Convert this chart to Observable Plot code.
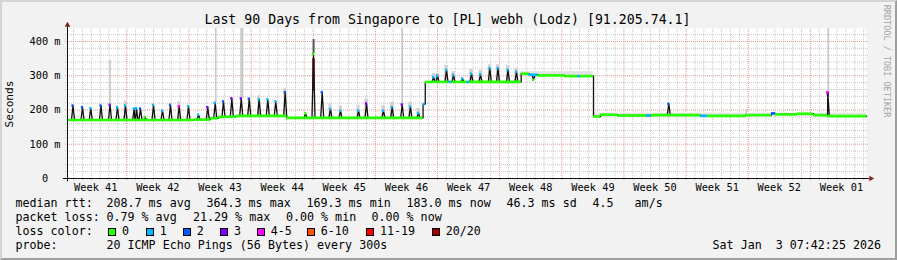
<!DOCTYPE html>
<html><head><meta charset="utf-8">
<script src="https://cdn.jsdelivr.net/npm/d3@7"></script>
<script src="https://cdn.jsdelivr.net/npm/@observablehq/plot@0.6"></script>
<style>
html,body{margin:0;padding:0;background:#fff;}
#wrap{position:relative;width:897px;height:260px;background:#f2f2f2;overflow:hidden;font-family:"DejaVu Sans Mono",monospace;color:#000;}
#edge{position:absolute;left:0;top:0;width:897px;height:260px;box-sizing:border-box;border-style:solid;border-width:2px;border-color:#d4d4d4 #9e9e9e #9e9e9e #d4d4d4;pointer-events:none;}
.t{position:absolute;white-space:pre;line-height:1;}
.box{position:absolute;width:6px;height:6px;border:1px solid #000;}
#chart{position:absolute;left:0;top:0;}
</style></head>
<body><div id="wrap"><div id="chart"></div><div id="edge"></div></div>
<script>
// ---------------- data (days since start of the 90-day window) ----------------
const weekLabels = ["Week 41","Week 42","Week 43","Week 44","Week 45","Week 46","Week 47","Week 48","Week 49","Week 50","Week 51","Week 52","Week 01"];
const weekLabelDay = [3.18,10.18,17.18,24.18,31.18,38.18,45.18,52.18,59.18,66.18,73.18,80.18,87.18];
const weekStartDay = [6.68,13.68,20.68,27.68,34.68,41.68,48.68,55.68,62.68,69.68,76.68,83.68];
const yTicks = [0,100,200,300,400];
const yLabels = ["0\u00a0\u00a0","100 m","200 m","300 m","400 m"];

// median RTT baseline levels (ms) and their loss class
const baseDay  = [0,14.3,16.1,17.0,19.0,24.7,40.05,40.3,43.0,43.3,45.0,45.3,51.1,52.0,53.0,55.0,56.0,57.5,57.8,59.25,60.03,61.95,65.22,65.78,71.30,72.09,76.37,79.30,79.75,82.23,84.03,85.61];
const baseMs   = [171,172,176,180,183,177,217,282,282,282,282,282,306,303,301,301,299,299,299,181,186,184,184,185,183,183,185,190,187,189,185,182];
const baseLoss = [0,0,0,0,0,0,1,0,1,0,1,0,0,1,0,0,0,1,0,0,0,0,1,0,1,0,0,2,0,0,0,0];

// median RTT spikes (ms) and loss class at the top
const peakDay  = [0.62,1.69,2.62,3.77,4.79,5.63,6.53,7.51,7.77,8.22,8.75,9.69,10.70,11.60,12.58,13.63,14.76,15.80,16.64,17.57,18.51,19.57,20.47,21.59,22.56,23.46,24.52,26.81,27.71,28.69,29.62,30.75,32.78,33.68,35.59,36.57,37.70,38.63,39.54,
                  41.23,41.68,42.69,43.48,44.49,45.51,46.52,47.57,48.49,49.62,50.57,52.49,67.73,85.64];
const peakMs   = [213,208,205,213,215,208,213,204,205,204,179,215,198,215,211,211,186,208,221,225,234,234,233,231,231,225,252,190,364,252,203,198,198,219,198,208,216,210,191,
                  296,300,317,302,292,306,304,322,322,317,312,288,218,252];
const peakLoss = [2,2,1,2,3,1,1,1,1,2,0,1,1,2,4,1,1,3,1,2,3,3,2,1,1,1,2,0,0,2,1,1,1,3,1,1,3,1,1,
                  1,1,1,1,1,1,1,1,1,1,1,0,2,4];

// vertical runs of the median drawn in a loss colour
const runDay  = [27.71,85.64];
const runLo   = [255,240];
const runHi   = [350,252];
const runLoss = [7,4];

// smoke: thin tall outliers
const spikeDay = [4.79,16.70,19.55,19.72,37.70,76.45,85.70];
const spikeLo  = [215,221,234,234,216,185,252];
const spikeHi  = [345,438,438,438,438,200,438];
const darkDay = [27.72];
const darkLo  = [364];
const darkHi  = [406];

// smoke: haze around the median
const hazeFrom = [6.40,12.45,21.45,24.38,29.45,30.60,32.60,33.50,35.40,36.40,38.45,39.35,41.10,42.50,43.30,45.30,46.35,47.40,48.30,49.45,50.40];
const hazeTo   = [6.70,12.75,21.75,24.70,29.80,30.95,32.95,33.90,35.80,36.80,38.85,39.75,41.90,42.90,43.70,45.70,46.75,47.80,48.70,49.85,50.80];
const hazeLo   = [171,171,183,183,177,177,177,177,177,177,177,177,282,282,282,282,282,282,282,282,282];
const hazeHi   = [226,224,242,262,218,212,214,232,212,222,222,205,306,330,312,318,316,332,332,330,322];
const bandFrom = [51.10,59.30];
const bandTo   = [59.20,90.00];
const bandLo   = [299,183];
const bandHi   = [312,191];

const lossNames  = ["0","1","2","3","4-5","6-10","11-19","20/20"];
const lossColors = ["#26ff00","#00b8ff","#0059ff","#7e00ff","#ff00ff","#ff5500","#ff0000","#a10000"];

const rttStats  = ["208.7 ms avg","364.3 ms max","169.3 ms min","183.0 ms now","46.3 ms sd","4.5   am/s"];
const lossStats = ["0.79 % avg","21.29 % max","0.00 % min","0.00 % now"];
const probeText = "20 ICMP Echo Pings (56 Bytes) every 300s";
const dateText  = "Sat Jan  3 07:42:25 2026";
const titleText = "Last 90 Days from Singapore to [PL] webh (Lodz) [91.205.74.1]";

// ---------------- build tables ----------------
const baseAt = d => baseMs[Math.max(0, d3.bisectRight(baseDay, d) - 1)];
const W = 0.17;
const ev = [];
baseDay.forEach((d, i) => { if (i > 0) { ev.push({d, o: 0, ms: baseMs[i-1]}); ev.push({d, o: 1, ms: baseMs[i]}); } });
peakDay.forEach((d, i) => {
  ev.push({d: d - W, o: 0, ms: baseAt(d - W)});
  ev.push({d: d, o: 1, ms: peakMs[i]});
  ev.push({d: d + W, o: 2, ms: baseAt(d + W)});
});
ev.sort((a, b) => a.d - b.d || a.o - b.o);
const trace = [{d: 0, ms: baseMs[0]}, ...ev, {d: 90, ms: baseMs[baseMs.length - 1]}];

const baseSegs = baseDay.map((d, i) => ({from: d, to: i + 1 < baseDay.length ? baseDay[i+1] : 90, ms: baseMs[i], c: lossColors[baseLoss[i]]}));
const peaks = peakDay.map((d, i) => ({d, ms: peakMs[i], c: lossColors[peakLoss[i]]}));
const runs = runDay.map((d, i) => ({d, lo: runLo[i], hi: runHi[i], c: lossColors[runLoss[i]]}));
const spikes = spikeDay.map((d, i) => ({d, lo: spikeLo[i], hi: spikeHi[i]}));
const darks = darkDay.map((d, i) => ({d, lo: darkLo[i], hi: darkHi[i]}));
const haze = hazeFrom.map((d, i) => ({from: d, to: hazeTo[i], lo: hazeLo[i], hi: hazeHi[i]}));
const bands = bandFrom.map((d, i) => ({from: d, to: bandTo[i], lo: bandLo[i], hi: bandHi[i]}));

const minorY = d3.range(20, 440, 20).filter(v => v % 100 !== 0);
const minorX = d3.range(0.68, 90, 1).filter(v => !weekStartDay.some(w => Math.abs(w - v) < 0.05));

const chart = Plot.plot({
  width: 897, height: 195,
  marginLeft: 67, marginRight: 31, marginTop: 28, marginBottom: 17,
  x: {domain: [0, 90], axis: null},
  y: {domain: [0, 438], axis: null},
  style: {background: "transparent", fontFamily: "'DejaVu Sans Mono', monospace", fontSize: "10.3px", color: "#000", overflow: "visible"},
  marks: [
    Plot.frame({fill: "#fff", stroke: "none"}),
    Plot.ruleY(minorY, {x1: -0.22, x2: 90.22, stroke: "#c4c4c4", strokeDasharray: "1,1"}),
    Plot.ruleX(minorX, {y1: -6, y2: 438, stroke: "#c4c4c4", strokeDasharray: "1,1"}),
    Plot.ruleY([100,200,300,400], {x1: -0.22, x2: 90.22, stroke: "#e79191", strokeDasharray: "1,1"}),
    Plot.ruleX(weekStartDay, {y1: -6, y2: 438, stroke: "#e79191", strokeDasharray: "1,1"}),
    Plot.rectY(bands, {x1: "from", x2: "to", y1: "lo", y2: "hi", fill: "#e2e2e2"}),
    Plot.rectY(haze, {x1: "from", x2: "to", y1: "lo", y2: "hi", fill: "#d2d2d2"}),
    Plot.ruleX(spikes, {x: "d", y1: "lo", y2: "hi", stroke: "#c8c8c8", strokeWidth: 1.6}),
    Plot.ruleX(darks, {x: "d", y1: "lo", y2: "hi", stroke: "#555", strokeWidth: 2}),
    Plot.ruleX(runs, {x: "d", y1: "lo", y2: "hi", stroke: "c", strokeWidth: 2.4}),
    Plot.line(trace, {x: "d", y: "ms", stroke: "#111", strokeWidth: 1.3}),
    Plot.ruleY(baseSegs, {x1: "from", x2: "to", y: "ms", stroke: "c", strokeWidth: 2.6}),
    Plot.ruleY(peaks, {x1: d => d.d - 0.12, x2: d => d.d + 0.12, y: "ms", stroke: "c", strokeWidth: 2.6}),
    Plot.ruleX([0], {y1: -10, y2: 446, stroke: "#111"}),
    Plot.ruleY([0], {x1: -0.48, x2: 90.35, stroke: "#111"}),
    Plot.dot([0], {x: 0, y: 448, symbol: "triangle", r: 2.1, fill: "#7f1f1f", stroke: "none"}),
    Plot.dot([0], {x: 90.5, y: 0, symbol: "triangle", r: 2.1, rotate: 90, fill: "#7f1f1f", stroke: "none"}),
    Plot.text(yTicks, {x: 0, y: d => d, text: (d, i) => yLabels[i], textAnchor: "end", dx: -7, fill: "#000"}),
    Plot.text(weekLabelDay, {x: d => d, y: 0, text: (d, i) => weekLabels[i], dy: 9.5, fill: "#000"})
  ]
});
document.getElementById("chart").appendChild(chart);

// ---------------- texts ----------------
const wrap = document.getElementById("wrap");
function txt(s, left, baseline, fs, extra) {
  const el = document.createElement("div");
  el.className = "t";
  el.textContent = s;
  el.style.fontSize = fs + "px";
  el.style.top = (baseline - 0.846 * fs) + "px";
  if (left !== null) el.style.left = left + "px";
  if (extra) Object.assign(el.style, extra);
  wrap.appendChild(el);
  return el;
}
const LF = 11.66;
txt(titleText, 0, 24, 13.24, {width: "895px", textAlign: "center"});
txt("median rtt:", 15.5, 208, LF);
[106.5, 206.5, 306.5, 406.5, 506.5, 592.5].forEach((x, i) => txt(rttStats[i], x, 208, LF));
txt("packet loss:", 15.5, 222, LF);
[106.5, 193, 286, 371.5].forEach((x, i) => txt(lossStats[i], x, 222, LF));
txt("loss color:", 15.5, 236, LF);
[108, 145.7, 182.7, 220, 256.7, 306.7, 366, 431.7].forEach((x, i) => {
  const b = document.createElement("div");
  b.className = "box";
  b.style.left = x + "px"; b.style.top = "228px";
  b.style.background = lossColors[i];
  wrap.appendChild(b);
  txt(lossNames[i], x + 14, 236, LF);
});
txt("probe:", 15.5, 250, LF);
txt(probeText, 106.5, 250, LF);
txt(dateText, null, 250, LF, {right: "16px"});
// y-axis title
txt("Seconds", 0, 0, 11.2, {left: "10px", top: "103.5px", transform: "translate(-50%,-50%) rotate(-90deg)"});
// watermark
txt("RRDTOOL / TOBI OETIKER", 0, 0, 8.5, {left: "887px", top: "61px", color: "#a3a3a3", transform: "translate(-50%,-50%) rotate(90deg)"});
</script>
</body></html>
